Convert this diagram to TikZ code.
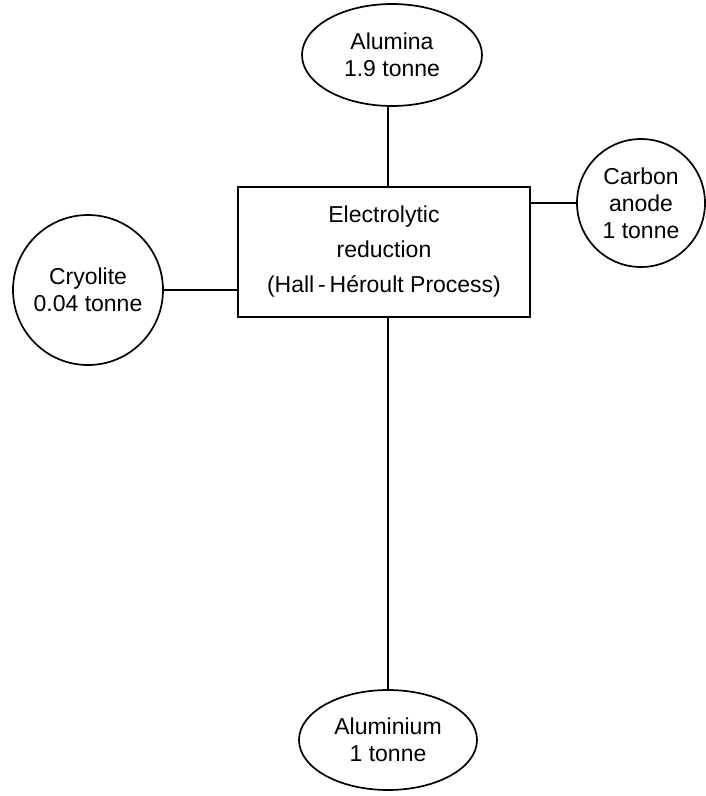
\documentclass[tikz,border=0pt]{standalone}
\usepackage{fontspec}
\setmainfont{Liberation Sans}
\usetikzlibrary{shapes.geometric}
\begin{document}
\begin{tikzpicture}[x=1pt,y=-1pt,line width=1.7pt,
  every node/.style={font=\fontsize{23}{27}\selectfont},
  feed/.style={draw,ellipse,minimum width=180pt,minimum height=102pt,inner sep=0pt,align=center},
  disc/.style={draw,circle,inner sep=0pt,align=center},
  procbox/.style={draw,rectangle,minimum width=292pt,minimum height=130pt,inner sep=0pt,align=center,font=\fontsize{23}{35}\selectfont}]
\useasboundingbox (0,0) rectangle (706,796);
\node[feed] (alumina) at (392,55) {Alumina\\1.9 tonne};
\node[procbox] (cell) at (384,252) {Electrolytic\\reduction\\(Hall\,-\,Héroult Process)};
\node[disc,minimum size=128pt] (carbon) at (641,203) {Carbon\\anode\\1 tonne};
\node[disc,minimum size=150pt] (cryolite) at (88,290) {Cryolite\\0.04 tonne};
\node[feed,minimum width=178pt,minimum height=100pt] (metal) at (388,740) {Aluminium\\1 tonne};
\draw (alumina.south -| 388,0) -- (388,0 |- cell.north);
\draw (carbon.west) -- (carbon.west -| cell.east);
\draw (cryolite.east) -- (cryolite.east -| cell.west);
\draw (388,0 |- cell.south) -- (388,0 |- metal.north);
\end{tikzpicture}
\end{document}
